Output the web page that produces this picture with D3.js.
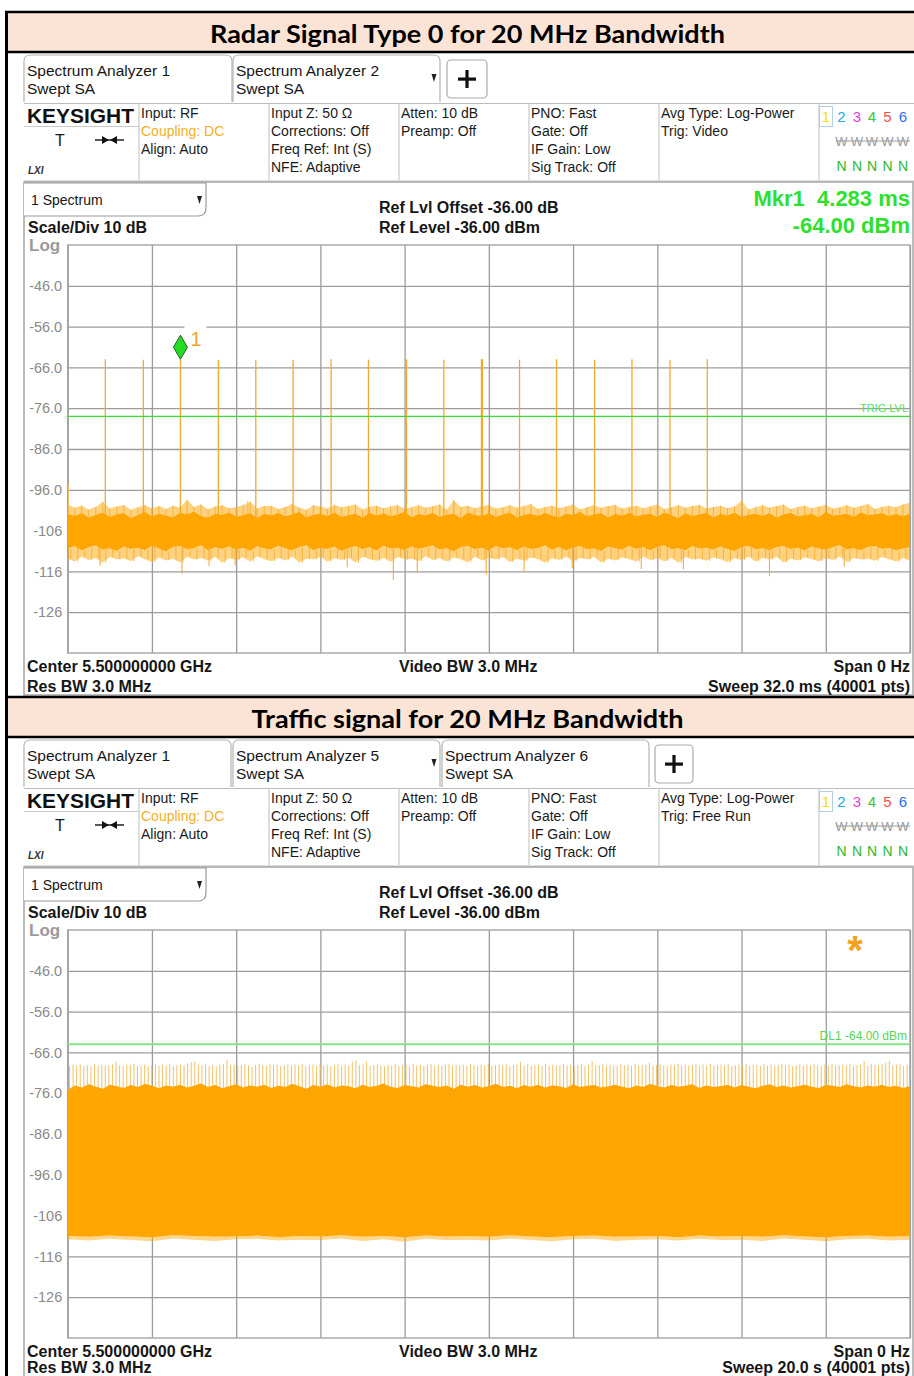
<!DOCTYPE html>
<html><head><meta charset="utf-8">
<script src="https://cdn.jsdelivr.net/npm/d3@7"></script>
<style>
html,body{margin:0;padding:0;background:#fff;}
svg{display:block;}
</style></head><body>
<svg id="c" width="914" height="1376"></svg>
<script>
// ---------------- DATA ----------------
const panelTitles = ["Radar Signal Type 0 for 20 MHz Bandwidth", "Traffic signal for 20 MHz Bandwidth"];
const yTicks = [-46, -56, -66, -76, -86, -96, -106, -116, -126];
const yTickLabels = ["-46.0", "-56.0", "-66.0", "-76.0", "-86.0", "-96.0", "-106", "-116", "-126"];
const refLevel = -36;          // dBm, top of grid
const scaleDiv = 10;           // dB / div
const sweeps = [32.0, 20.0];   // ms for radar, s for traffic
const sweepUnits = ["ms", "s"];
const trigTexts = ["Trig: Video", "Trig: Free Run"];

// Radar pulses (ms) and peak levels (dBm)
const radarPulseTimes = [1.429, 2.873, 4.283, 5.724, 7.146, 8.563, 10.007, 11.425, 12.870, 14.291, 15.735, 17.165, 18.571, 20.015, 21.437, 22.881, 24.299];
const radarPulsePeaks = [-64.0, -64.1, -64.0, -64.1, -64.2, -64.1, -64.0, -64.1, -64.0, -64.1, -64.0, -64.1, -64.0, -64.1, -64.0, -64.1, -64.0];
const markerTime = 4.283, markerValue = -64.00;
const trigLevel = -78.0;
const displayLine = -64.00;

// Radar noise floor, 121 evenly spaced sweep samples (dBm)
const radarCoreTop = [-101.9,-102.4,-101.6,-102.8,-102.1,-101.5,-102.6,-102.0,-101.7,-102.9,
-102.2,-101.4,-102.5,-101.8,-102.3,-102.7,-101.6,-102.0,-101.3,-102.4,
-102.8,-101.9,-102.1,-101.5,-102.6,-102.2,-101.7,-102.9,-101.8,-102.3,
-101.6,-102.5,-102.0,-101.4,-102.7,-102.1,-101.8,-102.4,-101.5,-102.6,
-102.2,-101.9,-102.8,-101.6,-102.3,-101.7,-102.5,-102.0,-101.4,-102.7,
-101.9,-102.3,-101.6,-102.6,-102.1,-101.8,-102.9,-101.5,-102.2,-102.4,
-101.7,-102.6,-102.0,-101.5,-102.8,-102.1,-101.9,-102.4,-101.6,-102.3,
-102.7,-101.8,-102.2,-101.4,-102.5,-102.0,-101.7,-102.8,-101.9,-102.3,
-101.6,-102.5,-102.1,-101.8,-102.6,-101.5,-102.2,-102.9,-101.7,-102.4,
-102.0,-101.6,-102.7,-101.9,-102.3,-101.5,-102.6,-102.1,-101.8,-102.4,
-101.7,-102.8,-102.0,-101.6,-102.5,-102.2,-101.9,-102.7,-101.4,-102.3,
-102.1,-101.8,-102.6,-101.5,-102.2,-102.0,-101.7,-102.4,-101.9,-102.5,
-101.8];
const radarCoreBot = [-110.4,-109.8,-110.9,-110.1,-109.6,-110.7,-110.3,-111.0,-109.9,-110.5,
-110.2,-110.8,-109.7,-110.4,-111.1,-110.0,-109.8,-110.6,-110.3,-109.5,
-110.9,-110.1,-110.5,-109.9,-110.7,-110.2,-111.0,-109.8,-110.4,-110.6,
-109.7,-110.3,-110.9,-110.0,-109.6,-110.8,-110.2,-110.5,-109.9,-111.0,
-110.3,-109.8,-110.6,-110.1,-110.9,-109.7,-110.4,-110.2,-110.8,-109.9,
-110.5,-110.1,-109.6,-110.7,-110.3,-111.1,-110.0,-109.8,-110.6,-110.2,
-110.9,-109.7,-110.4,-110.1,-110.8,-109.9,-110.5,-110.3,-109.6,-110.7,
-110.0,-110.9,-110.2,-109.8,-110.6,-110.4,-111.0,-109.9,-110.3,-110.7,
-109.7,-110.5,-110.1,-110.8,-110.0,-109.6,-110.6,-110.3,-110.9,-109.8,
-110.4,-110.2,-110.7,-109.9,-110.5,-111.0,-110.1,-109.7,-110.6,-110.3,
-110.8,-110.0,-109.8,-110.5,-110.2,-110.9,-109.9,-110.4,-110.7,-110.1,
-109.6,-110.6,-110.3,-110.8,-110.0,-109.8,-110.5,-110.2,-110.9,-110.4,
-110.1];
const radarHairTop = [-99.6,-100.4,-99.9,-100.8,-100.2,-99.0,-100.6,-100.1,-99.7,-100.9,
-100.3,-99.8,-100.5,-100.0,-100.7,-99.9,-100.4,-98.5,-100.2,-99.6,
-100.8,-100.1,-99.8,-100.5,-100.3,-99.7,-98.9,-100.6,-100.0,-99.9,
-100.7,-100.2,-99.5,-100.4,-100.9,-99.8,-100.1,-100.6,-99.7,-100.3,
-100.0,-99.6,-100.8,-100.2,-99.9,-100.5,-100.1,-99.7,-100.7,-100.3,
-99.8,-100.4,-100.0,-99.6,-100.9,-98.6,-100.2,-99.9,-100.5,-100.1,
-99.7,-100.6,-100.3,-99.8,-100.4,-100.0,-99.5,-100.7,-100.2,-99.9,
-100.5,-100.1,-99.6,-100.8,-100.3,-99.8,-100.4,-100.0,-99.7,-100.6,
-100.2,-99.9,-100.5,-100.1,-99.6,-100.7,-100.3,-99.8,-100.4,-100.0,
-99.7,-100.6,-100.2,-99.9,-100.5,-100.1,-98.7,-100.8,-100.3,-99.8,
-100.4,-100.0,-99.6,-100.7,-100.2,-99.9,-100.5,-100.1,-99.7,-100.6,
-100.3,-99.8,-100.4,-100.0,-99.5,-100.7,-100.2,-99.9,-100.3,-99.6,
-99.2];
const radarHairBot = [-112.9,-113.6,-112.4,-113.2,-112.7,-113.9,-112.5,-113.1,-112.8,-113.5,
-112.3,-113.0,-113.7,-112.6,-113.3,-112.9,-113.8,-112.4,-113.1,-112.7,
-113.4,-112.5,-113.9,-112.8,-113.2,-112.6,-113.6,-112.3,-113.0,-113.5,
-112.7,-113.3,-112.4,-113.8,-112.9,-113.1,-112.5,-113.6,-112.8,-113.2,
-112.6,-113.9,-112.4,-113.0,-113.4,-112.7,-113.7,-112.5,-113.1,-112.9,
-113.5,-112.3,-113.2,-112.8,-113.6,-112.6,-113.0,-113.8,-112.4,-113.3,
-112.7,-113.1,-112.5,-113.7,-112.9,-113.4,-112.6,-113.0,-113.9,-112.8,
-113.2,-112.4,-113.5,-112.7,-113.1,-112.5,-113.8,-112.9,-113.3,-112.6,
-113.0,-113.6,-112.4,-113.2,-112.8,-113.5,-112.7,-113.9,-112.5,-113.1,
-112.9,-113.4,-112.6,-113.0,-113.7,-112.8,-113.2,-112.4,-113.6,-112.7,
-113.1,-112.5,-113.8,-112.9,-113.3,-112.6,-113.0,-113.5,-112.8,-113.2,
-112.4,-113.7,-112.7,-113.1,-112.9,-113.4,-112.5,-113.0,-113.6,-112.8,
-113.3];
const radarDownSpikeTimes = [1.23, 4.34, 5.37, 6.36, 10.62, 12.37, 13.28, 15.90, 17.34, 19.17, 21.79, 23.39, 26.66, 29.50];
const radarDownSpikeValues = [-114.6, -116.6, -114.7, -114.5, -115.0, -118.1, -116.4, -116.8, -116.0, -115.2, -115.4, -115.5, -117.2, -114.8];
const radarUpSpikeTimes = [0.0, 1.30, 4.53, 6.82, 14.66, 25.60];
const radarUpSpikeValues = [-94.5, -99.0, -98.5, -98.8, -98.6, -98.7];

// Traffic (s): frame period and per-frame peaks, envelopes of the dense trace
const trafficFramePeriod = 0.085;
const trafficFramePeaks = [-69.4,-69.0,-69.2,-68.9,-69.3,-69.1,-69.5,-68.8,-69.2,-69.0,
-69.3,-69.1,-68.9,-68.3,-69.2,-69.4,-69.0,-69.1,-68.8,-69.3,
-69.2,-69.0,-69.5,-69.1,-68.9,-69.3,-69.0,-69.2,-68.8,-69.4,
-69.1,-69.0,-69.3,-68.7,-68.4,-68.2,-69.0,-69.2,-68.9,-69.3,
-69.1,-69.4,-69.0,-68.8,-67.9,-69.2,-69.0,-69.3,-69.1,-68.9,
-69.2,-69.5,-69.0,-68.8,-69.1,-69.3,-68.9,-69.2,-69.0,-69.4,
-69.1,-68.9,-69.3,-69.0,-69.2,-68.8,-69.4,-69.1,-69.0,-69.3,
-68.9,-69.2,-69.0,-69.4,-69.1,-68.8,-69.3,-69.0,-69.2,-68.3,
-68.0,-69.1,-69.0,-68.2,-69.3,-69.1,-68.9,-69.2,-69.4,-69.0,
-69.2,-68.9,-69.3,-69.1,-69.0,-69.4,-68.8,-69.2,-69.0,-69.3,
-69.1,-68.9,-69.2,-69.0,-69.4,-69.1,-68.8,-69.3,-69.0,-69.2,
-69.0,-69.3,-68.9,-69.1,-69.4,-69.0,-69.2,-68.8,-69.3,-69.1,
-69.0,-69.2,-68.9,-69.4,-69.1,-69.0,-68.3,-69.2,-68.9,-69.3,
-69.1,-69.0,-69.4,-68.8,-69.2,-69.0,-69.3,-69.1,-68.9,-69.2,
-69.0,-69.4,-69.1,-68.8,-69.3,-69.0,-68.1,-69.2,-69.1,-68.9,
-69.3,-69.0,-69.2,-69.4,-68.9,-69.1,-69.0,-69.3,-68.8,-69.2,
-69.1,-69.0,-68.5,-69.3,-69.1,-68.9,-69.2,-69.4,-69.0,-69.1,
-68.8,-69.3,-69.0,-69.2,-69.1,-68.9,-69.4,-69.0,-69.2,-68.8,
-69.3,-69.1,-69.0,-69.2,-68.9,-69.4,-69.1,-69.0,-69.3,-68.8,
-69.2,-69.0,-69.1,-69.4,-68.9,-69.2,-69.0,-69.3,-69.1,-68.8,
-69.2,-69.0,-69.4,-69.1,-68.9,-69.3,-69.0,-69.2,-68.8,-69.1,
-69.4,-69.0,-69.2,-68.9,-69.3,-69.1,-69.0,-69.2,-68.8,-69.4,
-69.1,-69.0,-68.2,-69.3,-68.9,-69.1,-69.2,-69.0,-68.6,-68.1,
-69.2,-69.0,-68.9,-69.3,-69.1];
const trafficCoreTop = [-75.2,-74.1,-74.6,-73.8,-74.4,-74.9,-73.9,-74.3,-74.7,-74.0,
-74.5,-73.7,-74.2,-74.8,-74.1,-74.4,-73.9,-74.6,-74.2,-73.6,
-74.5,-74.0,-74.8,-74.3,-73.8,-74.6,-74.1,-74.4,-73.9,-74.7,
-74.2,-74.5,-73.7,-74.3,-74.9,-74.0,-74.4,-73.8,-74.6,-74.1,
-74.3,-74.8,-73.9,-74.5,-74.2,-73.6,-74.4,-74.7,-74.0,-74.3,
-74.6,-73.8,-74.2,-74.5,-74.1,-74.9,-73.9,-74.4,-74.0,-74.6,
-74.3,-73.7,-74.5,-74.2,-74.8,-74.0,-74.4,-73.9,-74.6,-74.1,
-74.3,-74.7,-73.8,-74.5,-74.2,-74.0,-74.6,-74.3,-73.9,-74.4,
-74.8,-74.1,-74.5,-73.7,-74.3,-74.6,-74.0,-74.4,-74.2,-73.8,
-74.7,-74.1,-74.5,-74.3,-73.9,-74.6,-74.0,-74.4,-74.8,-74.2,
-73.8,-74.5,-74.1,-74.6,-74.3,-73.9,-74.4,-74.7,-74.0,-74.2,
-74.5,-73.8,-74.3,-74.6,-74.1,-74.4,-73.9,-74.5,-74.2,-74.7,
-74.3];
const trafficCoreBot = [-111.0,-111.2,-110.9,-111.1,-111.3,-110.8,-111.0,-111.2,-111.1,-110.9,
-111.3,-111.0,-111.1,-110.8,-111.2,-111.0,-111.3,-110.9,-111.1,-111.0,
-111.2,-110.8,-111.1,-111.3,-111.0,-110.9,-111.2,-111.1,-111.0,-111.3,
-110.9,-111.1,-111.0,-111.2,-110.8,-111.1,-111.3,-111.0,-110.9,-111.2,
-111.0];
const trafficHairBot = [-111.8,-112.1,-111.7,-112.0,-112.3,-111.6,-111.9,-112.2,-111.8,-111.7,
-112.1,-111.9,-112.0,-111.6,-112.2,-111.8,-112.4,-111.7,-112.0,-111.9,
-112.1,-111.6,-112.0,-112.3,-111.8,-111.7,-112.2,-111.9,-111.8,-112.1,
-111.7,-112.0,-111.9,-112.2,-111.6,-111.9,-112.3,-111.8,-111.7,-112.1,
-111.9];

const traceNumbers = ["1", "2", "3", "4", "5", "6"];
const traceColors = ["#F2E200", "#22A8E6", "#E03FD0", "#3CC43C", "#F0504A", "#2F6CF0"];
const traceTypes = ["W", "W", "W", "W", "W"];   // traces 2-6
const traceDetectors = ["N", "N", "N", "N", "N"];

// ---------------- LAYOUT / STYLE ----------------
const svg = d3.select("#c");
const FONT = '"Liberation Sans", Arial, sans-serif';
const PANEL_DY = 685;
const PL = 67.7, PR = 910, PT = 245, PB = 653;
const ORANGE = "#FFA500";

function T(g, x, y, s, o = {}) {
  const t = g.append("text").attr("x", x).attr("y", y)
    .attr("dominant-baseline", o.base || "central").text(s)
    .attr("font-size", o.size || 14).attr("fill", o.fill || "#161616")
    .attr("font-family", o.family || FONT);
  if (o.weight) t.attr("font-weight", o.weight);
  if (o.anchor) t.attr("text-anchor", o.anchor);
  if (o.len) t.attr("textLength", o.len).attr("lengthAdjust", "spacingAndGlyphs");
  if (o.italic) t.attr("font-style", "italic");
  if (o.pre) t.style("white-space", "pre");
  return t;
}
function L(g, x1, y1, x2, y2, stroke, w) {
  return g.append("line").attr("x1", x1).attr("y1", y1).attr("x2", x2).attr("y2", y2)
    .attr("stroke", stroke).attr("stroke-width", w);
}

const panelCfg = [
  { title: panelTitles[0], titleLen: 515,
    tabs: [{ a: "Spectrum Analyzer 1", x0: 24, x1: 232 }, { a: "Spectrum Analyzer 2", x0: 233, x1: 440, arrow: true }],
    plus: [447, 487], trig: trigTexts[0], sweep: sweeps[0], unit: sweepUnits[0], row2: 686 },
  { title: panelTitles[1], titleLen: 432,
    tabs: [{ a: "Spectrum Analyzer 1", x0: 24, x1: 231 }, { a: "Spectrum Analyzer 5", x0: 233, x1: 440, arrow: true }, { a: "Spectrum Analyzer 6", x0: 442, x1: 649 }],
    plus: [655, 693], trig: trigTexts[1], sweep: sweeps[1], unit: sweepUnits[1], row2: 682 }
];

function drawPanel(cfg, k) {
  const g = svg.append("g").attr("transform", `translate(0,${k * PANEL_DY})`);
  // title row
  g.append("rect").attr("x", 7).attr("y", 12).attr("width", 907).attr("height", 40).attr("fill", "#FBE4D5");
  L(g, 5, 12, 914, 12, "#000", 2.6);
  L(g, 5, 52, 914, 52, "#000", 2.4);
  T(g, 467.5, 33, cfg.title, { size: 25, weight: "bold", family: "Lato, 'Open Sans', sans-serif", anchor: "middle", len: cfg.titleLen, fill: "#000" });

  // tabs
  cfg.tabs.forEach(tb => {
    g.append("path").attr("d", `M${tb.x0},102 V61 Q${tb.x0},55 ${tb.x0 + 6},55 H${tb.x1 - 6} Q${tb.x1},55 ${tb.x1},61 V102`)
      .attr("fill", "none").attr("stroke", "#b4b4b4").attr("stroke-width", 1.2);
    T(g, tb.x0 + 3, 70, tb.a, { size: 15.5 });
    T(g, tb.x0 + 3, 88, "Swept SA", { size: 15.5 });
    if (tb.arrow) g.append("path").attr("d", `M${tb.x1 - 8.5},74 h5 l-2.5,8 z`).attr("fill", "#222");
  });
  g.append("rect").attr("x", cfg.plus[0]).attr("y", 60).attr("width", cfg.plus[1] - cfg.plus[0]).attr("height", 38)
    .attr("rx", 4).attr("fill", "#fff").attr("stroke", "#aaa").attr("stroke-width", 1.2);
  const pcx = (cfg.plus[0] + cfg.plus[1]) / 2;
  g.append("rect").attr("x", pcx - 9).attr("y", 77.5).attr("width", 18).attr("height", 3.2).attr("fill", "#111");
  g.append("rect").attr("x", pcx - 1.6).attr("y", 70).attr("width", 3.2).attr("height", 18).attr("fill", "#111");

  // info bar
  L(g, 24, 103.5, 914, 103.5, "#bdbdbd", 1.2);
  L(g, 24, 181, 914, 181, "#bdbdbd", 1.2);
  [139, 269, 399, 529, 659, 819].forEach(x => L(g, x, 104, x, 180, "#c8c8c8", 1.2));
  L(g, 24, 126.5, 139, 126.5, "#c8c8c8", 1.2);
  T(g, 27, 115, "KEYSIGHT", { size: 21, weight: "bold", len: 107, fill: "#111" });
  T(g, 60, 140, "T", { size: 16, anchor: "middle" });
  L(g, 95, 140, 124, 140, "#111", 1.4);
  g.append("path").attr("d", "M102,136 L109,140 L102,144 Z M117,136 L110,140 L117,144 Z").attr("fill", "#111");
  T(g, 28, 170, "LXI", { size: 10, weight: "bold", italic: true, fill: "#333" });

  const rows = [113, 131, 149, 167];
  const cols = [
    { x: 141, lines: ["Input: RF", "Coupling: DC", "Align: Auto"], colors: [null, "#F2B01E", null] },
    { x: 271, lines: ["Input Z: 50 \u03A9", "Corrections: Off", "Freq Ref: Int (S)", "NFE: Adaptive"] },
    { x: 401, lines: ["Atten: 10 dB", "Preamp: Off"] },
    { x: 531, lines: ["PNO: Fast", "Gate: Off", "IF Gain: Low", "Sig Track: Off"] },
    { x: 661, lines: ["Avg Type: Log-Power", cfg.trig] }
  ];
  cols.forEach(c => c.lines.forEach((s, i) => T(g, c.x, rows[i], s, { size: 14, fill: (c.colors && c.colors[i]) || "#1a1a1a" })));
  const tx = [826, 841.5, 857, 872, 887.5, 903];
  g.append("rect").attr("x", 819.5).attr("y", 106.5).attr("width", 13).attr("height", 20)
    .attr("fill", "none").attr("stroke", "#b0cfe0").attr("stroke-width", 1);
  traceNumbers.forEach((s, i) => T(g, tx[i], 116, s, { size: 15, anchor: "middle", fill: traceColors[i] }));
  traceTypes.forEach((s, i) => T(g, tx[i + 1], 141, s, { size: 13, anchor: "middle", fill: "#9a9a9a" }));
  L(g, 836, 141, 910, 141, "#9a9a9a", 1);
  traceDetectors.forEach((s, i) => T(g, tx[i + 1], 166, s, { size: 14, anchor: "middle", fill: "#2DB82D" }));

  // spectrum area frame
  g.append("rect").attr("x", 24).attr("y", 182).attr("width", 889).attr("height", 513)
    .attr("fill", "none").attr("stroke", "#ababab").attr("stroke-width", 1.6);
  g.append("path").attr("d", "M24,183 H206 V208 Q206,216 198,216 H24")
    .attr("fill", "#fff").attr("stroke", "#9a9a9a").attr("stroke-width", 1.2);
  T(g, 31, 200, "1 Spectrum", { size: 14 });
  g.append("path").attr("d", "M197,196 h5 l-2.5,8 z").attr("fill", "#222");
  T(g, 28, 227, `Scale/Div ${scaleDiv} dB`, { size: 16, weight: "bold" });
  T(g, 29, 245, "Log", { size: 17, weight: "bold", fill: "#9a9a9a" });
  T(g, 379, 207, `Ref Lvl Offset ${refLevel.toFixed(2)} dB`, { size: 16, weight: "bold" });
  T(g, 379, 227, `Ref Level ${refLevel.toFixed(2)} dBm`, { size: 16, weight: "bold" });

  T(g, 27, 666, "Center 5.500000000 GHz", { size: 16, weight: "bold" });
  T(g, 27, cfg.row2, "Res BW 3.0 MHz", { size: 16, weight: "bold" });
  T(g, 399, 666, "Video BW 3.0 MHz", { size: 16, weight: "bold" });
  T(g, 910, 666, "Span 0 Hz", { size: 16, weight: "bold", anchor: "end" });
  T(g, 910, cfg.row2, `Sweep ${cfg.sweep.toFixed(1)} ${cfg.unit} (40001 pts)`, { size: 16, weight: "bold", anchor: "end" });

  // scales + grid
  const x = d3.scaleLinear().domain([0, cfg.sweep]).range([PL, PR]);
  const y = d3.scaleLinear().domain([refLevel - scaleDiv * 10, refLevel]).range([PB, PT]);
  const xGrid = d3.range(0, 11).map(i => i * cfg.sweep / 10);

  const gx = g.append("g").attr("transform", `translate(0,${PB})`)
    .call(d3.axisBottom(x).tickValues(xGrid).tickSize(-(PB - PT)).tickFormat(""));
  gx.select(".domain").remove();
  gx.selectAll("line").attr("stroke", "#9c9c9c").attr("stroke-width", 1.3);
  const gy = g.append("g").attr("transform", `translate(${PL},0)`)
    .call(d3.axisLeft(y).tickValues(yTicks).tickSize(-(PR - PL)).tickPadding(5.5).tickFormat((d, i) => yTickLabels[i]));
  gy.select(".domain").remove();
  gy.selectAll("line").attr("stroke", "#9c9c9c").attr("stroke-width", 1.3);
  gy.selectAll("text").attr("font-family", FONT).attr("font-size", 14.5).attr("fill", "#8a8a8a");
  g.append("rect").attr("x", PL).attr("y", PT).attr("width", PR - PL).attr("height", PB - PT)
    .attr("fill", "none").attr("stroke", "#a4a4a4").attr("stroke-width", 1.4);

  const clipId = "clip" + k;
  g.append("clipPath").attr("id", clipId).append("rect")
    .attr("x", PL).attr("y", PT).attr("width", PR - PL).attr("height", PB - PT);
  const tr = g.append("g").attr("clip-path", `url(#${clipId})`);
  return { g, tr, x, y };
}

const sampleT = (arr, i, sweep) => i / (arr.length - 1) * sweep;

// ---------------- PANEL 1: RADAR ----------------
{
  const { g, tr, x, y } = drawPanel(panelCfg[0], 0);
  const sw = sweeps[0];
  const idx = d3.range(radarCoreTop.length);
  // light fringes
  tr.append("path").attr("d", d3.area().x(i => x(sampleT(radarCoreTop, i, sw)))
      .y0(i => y(radarCoreTop[i])).y1(i => y(radarHairTop[i]))(idx))
    .attr("fill", ORANGE).attr("opacity", 0.5);
  tr.append("path").attr("d", d3.area().x(i => x(sampleT(radarCoreBot, i, sw)))
      .y0(i => y(radarCoreBot[i])).y1(i => y(radarHairBot[i]))(idx))
    .attr("fill", ORANGE).attr("opacity", 0.5);
  tr.selectAll(".ht").data(idx).join("line")
    .attr("x1", i => x(sampleT(radarHairTop, i, sw))).attr("x2", i => x(sampleT(radarHairTop, i, sw)))
    .attr("y1", i => y(radarCoreTop[i])).attr("y2", i => y(radarHairTop[i]))
    .attr("stroke", "#F5A623").attr("stroke-width", 1).attr("opacity", 0.7);
  tr.selectAll(".hb").data(idx).join("line")
    .attr("x1", i => x(sampleT(radarHairBot, i, sw)) + 3).attr("x2", i => x(sampleT(radarHairBot, i, sw)) + 3)
    .attr("y1", i => y(radarCoreBot[i])).attr("y2", i => y(radarHairBot[i]))
    .attr("stroke", "#F5A623").attr("stroke-width", 1).attr("opacity", 0.7);
  // pulses
  tr.selectAll(".pulse").data(radarPulseTimes).join("line")
    .attr("x1", d => x(d)).attr("x2", d => x(d))
    .attr("y1", y(-104)).attr("y2", (d, i) => y(radarPulsePeaks[i]))
    .attr("stroke", "#F2AA2E").attr("stroke-width", (d, i) => i === 10 ? 2.2 : 1.3);
  // noise core
  tr.append("path").attr("d", d3.area().x(i => x(sampleT(radarCoreTop, i, sw)))
      .y0(i => y(radarCoreBot[i])).y1(i => y(radarCoreTop[i]))(idx))
    .attr("fill", ORANGE);
  // individual spikes
  tr.selectAll(".ds").data(radarDownSpikeTimes).join("line")
    .attr("x1", d => x(d)).attr("x2", d => x(d))
    .attr("y1", y(-110)).attr("y2", (d, i) => y(radarDownSpikeValues[i]))
    .attr("stroke", "#F0B040").attr("stroke-width", 1.1);
  tr.selectAll(".us").data(radarUpSpikeTimes).join("line")
    .attr("x1", d => x(d) + 0.6).attr("x2", d => x(d) + 0.6)
    .attr("y1", y(-102)).attr("y2", (d, i) => y(radarUpSpikeValues[i]))
    .attr("stroke", "#F2BE5A").attr("stroke-width", 1.1);

  // trigger level
  L(g, PL, y(trigLevel), PR, y(trigLevel), "#33DD33", 1.3);
  T(g, 908, y(trigLevel) - 8, "TRIG LVL", { size: 11, anchor: "end", fill: "#55E055" });

  // marker
  const mx = x(markerTime), my = y(markerValue);
  g.append("rect").attr("x", mx + 4).attr("y", my - 37).attr("width", 22).attr("height", 29).attr("fill", "#fff");
  g.append("path").attr("d", `M${mx},${my} L${mx + 7},${my - 12} L${mx},${my - 24} L${mx - 7},${my - 12} Z`)
    .attr("fill", "#22DD22").attr("stroke", "#2a5a2a").attr("stroke-width", 1);
  T(g, mx + 10, my - 20, "1", { size: 20, fill: "#F2A52A" });

  T(g, 910, 198, `Mkr1  ${markerTime.toFixed(3)} ms`, { size: 22, weight: "bold", anchor: "end", fill: "#2EE02E", pre: true });
  T(g, 910, 225, `${markerValue.toFixed(2)} dBm`, { size: 22, weight: "bold", anchor: "end", fill: "#2EE02E" });
}

// ---------------- PANEL 2: TRAFFIC ----------------
{
  const { g, tr, x, y } = drawPanel(panelCfg[1], 1);
  const sw = sweeps[1];
  // frame spikes
  tr.selectAll(".fs").data(trafficFramePeaks).join("line")
    .attr("x1", (d, i) => x((i + 0.5) * trafficFramePeriod)).attr("x2", (d, i) => x((i + 0.5) * trafficFramePeriod))
    .attr("y1", y(-76)).attr("y2", d => y(d))
    .attr("stroke", "#F0B440").attr("stroke-width", 1).attr("opacity", 0.8);
  // lower fringe
  const ib = d3.range(trafficCoreBot.length);
  tr.append("path").attr("d", d3.area().x(i => x(sampleT(trafficCoreBot, i, sw)))
      .y0(i => y(trafficCoreBot[i])).y1(i => y(trafficHairBot[i]))(ib))
    .attr("fill", ORANGE).attr("opacity", 0.45);
  // core
  const topPts = trafficCoreTop.map((v, i) => [x(sampleT(trafficCoreTop, i, sw)), y(v)]);
  const botPts = trafficCoreBot.map((v, i) => [x(sampleT(trafficCoreBot, i, sw)), y(v)]).reverse();
  tr.append("path").attr("d", d3.line()(topPts.concat(botPts)) + "Z").attr("fill", ORANGE);

  // display line
  L(g, PL, y(displayLine), PR, y(displayLine), "#86E286", 2);
  T(g, 907, y(displayLine) - 8, `DL1 ${displayLine.toFixed(2)} dBm`, { size: 12, anchor: "end", fill: "#55D555" });
  // asterisk
  T(g, 855, 279, "*", { size: 40, weight: "bold", anchor: "middle", fill: "#F5A21A", base: "alphabetic" });
}

// outer left border
L(svg, 6.5, 11, 6.5, 1376, "#000", 3);
</script>
</body></html>
